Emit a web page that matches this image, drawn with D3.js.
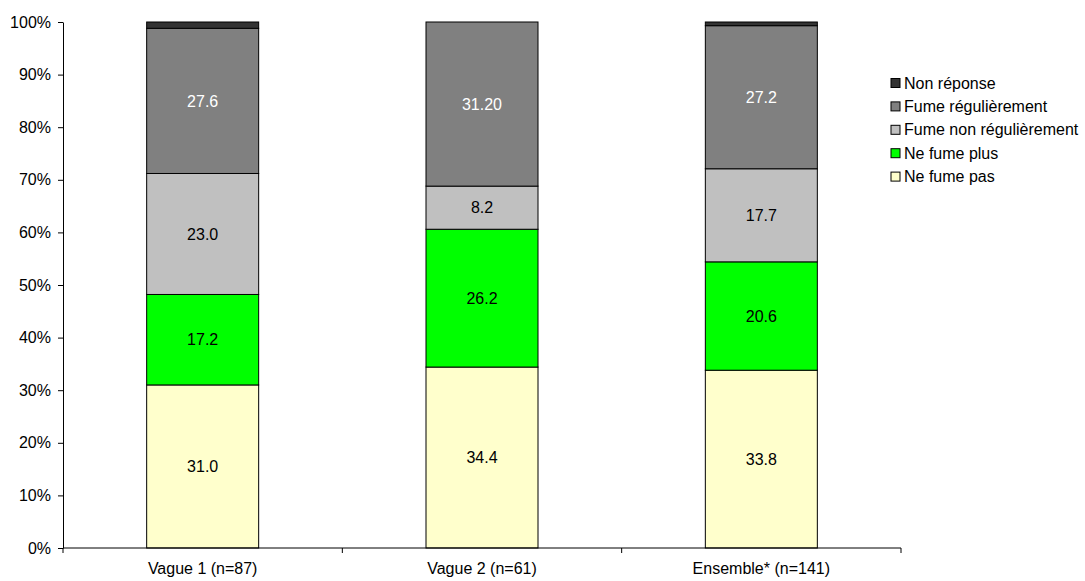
<!DOCTYPE html>
<html><head><meta charset="utf-8">
<script src="https://cdn.jsdelivr.net/npm/d3@7"></script>
<style>body{margin:0;background:#fff}text{font-family:"Liberation Sans",Arial,sans-serif}</style>
</head><body><svg id="c" width="1085" height="581"></svg>
<script>
const categories = ["Vague 1 (n=87)", "Vague 2 (n=61)", "Ensemble* (n=141)"];
const seriesNames = ["Ne fume pas", "Ne fume plus", "Fume non régulièrement", "Fume régulièrement", "Non réponse"];
const neFumePas = [31.0, 34.4, 33.8];
const neFumePlus = [17.2, 26.2, 20.6];
const fumeNonReg = [23.0, 8.2, 17.7];
const fumeReg = [27.6, 31.2, 27.2];
const nonReponse = [1.2, 0.0, 0.7];
const labelsText = [
  ["31.0", "34.4", "33.8"],
  ["17.2", "26.2", "20.6"],
  ["23.0", "8.2", "17.7"],
  ["27.6", "31.20", "27.2"],
  [null, null, null]
];
const yTicks = [0,10,20,30,40,50,60,70,80,90,100];
const colors = ["#FFFFCC", "#00FF00", "#C0C0C0", "#808080", "#333333"];
const textColors = ["#000", "#000", "#000", "#fff", "#fff"];
const FS = 16;

const series = [neFumePas, neFumePlus, fumeNonReg, fumeReg, nonReponse];
const svg = d3.select("#c");
const L = 63, R = 901, T = 22, B = 548;
const x = d3.scaleBand().domain(categories).range([L, R]).paddingInner(0).paddingOuter(0);
const y = d3.scaleLinear().domain([0, 100]).range([B, T]);
const barW = 112;

const data = categories.map((c, i) => {
  let acc = 0;
  return series.map((s, k) => { const y0 = acc; acc += s[i]; return {cat: c, k, y0, y1: acc, label: labelsText[k][i]}; });
});

const g = svg.append("g");
data.forEach(segs => {
  segs.forEach(d => {
    if (d.y1 - d.y0 <= 0) return;
    const cx = x(d.cat) + x.bandwidth() / 2;
    g.append("rect")
      .attr("x", cx - barW / 2).attr("width", barW)
      .attr("y", y(d.y1)).attr("height", y(d.y0) - y(d.y1))
      .attr("fill", colors[d.k]).attr("stroke", "#000").attr("stroke-width", 1);
    if (d.label) {
      g.append("text").attr("x", cx).attr("y", (y(d.y0) + y(d.y1)) / 2)
        .attr("dy", "0.35em").attr("text-anchor", "middle")
        .attr("font-size", FS).attr("fill", textColors[d.k]).text(d.label);
    }
  });
});

// Y axis
const yAxis = d3.axisLeft(y).tickValues(yTicks).tickFormat(d => d + "%").tickSize(5).tickSizeOuter(0);
const ya = svg.append("g").attr("transform", `translate(${L},0)`).call(yAxis);
ya.attr("font-size", FS).attr("font-family", null);
ya.selectAll("text").attr("font-size", FS).attr("fill", "#000").attr("x", -12);
ya.selectAll("line,path").attr("stroke", "#000");

// X axis
const xa = svg.append("g").attr("transform", `translate(0,${B})`);
xa.append("line").attr("x1", L).attr("x2", R).attr("y1", 0).attr("y2", 0).attr("stroke", "#000");
const bounds = [L].concat(categories.map(c => x(c) + x.bandwidth()));
xa.selectAll(".tk").data(bounds).enter().append("line")
  .attr("x1", d => d).attr("x2", d => d).attr("y1", 0).attr("y2", 5).attr("stroke", "#000");
xa.selectAll(".lb").data(categories).enter().append("text")
  .attr("x", d => x(d) + x.bandwidth() / 2).attr("y", 20).attr("dy", "0.35em").attr("text-anchor", "middle")
  .attr("font-size", FS).attr("fill", "#000").text(d => d);

// Legend
const legOrder = [4, 3, 2, 1, 0];
const lg = svg.append("g");
legOrder.forEach((k, i) => {
  const yy = 83 + i * 23.4;
  lg.append("rect").attr("x", 891).attr("y", yy - 4.5).attr("width", 9).attr("height", 9)
    .attr("fill", colors[k]).attr("stroke", "#000").attr("stroke-width", 1);
  lg.append("text").attr("x", 904).attr("y", yy).attr("dy", "0.35em")
    .attr("font-size", FS).attr("fill", "#000").text(seriesNames[k]);
});
</script></body></html>
